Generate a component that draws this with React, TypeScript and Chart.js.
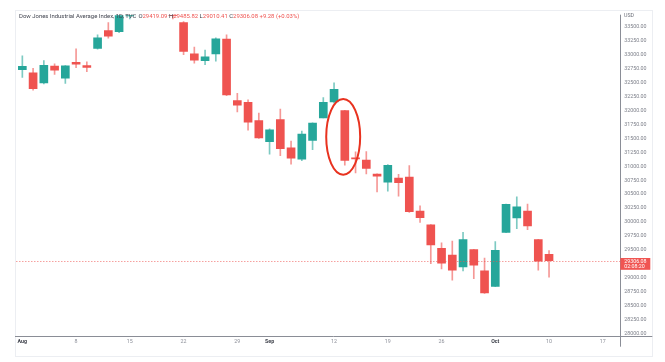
import React, { useEffect, useRef } from 'react';
import Chart from 'chart.js/auto';

// Trading days (daily candles), Aug 1 – Oct 10, 2022
const days = [
  '2022-08-01', '2022-08-02', '2022-08-03', '2022-08-04', '2022-08-05',
  '2022-08-08', '2022-08-09', '2022-08-10', '2022-08-11', '2022-08-12',
  '2022-08-15', '2022-08-16', '2022-08-17', '2022-08-18', '2022-08-19',
  '2022-08-22', '2022-08-23', '2022-08-24', '2022-08-25', '2022-08-26',
  '2022-08-29', '2022-08-30', '2022-08-31', '2022-09-01', '2022-09-02',
  '2022-09-06', '2022-09-07', '2022-09-08', '2022-09-09', '2022-09-12',
  '2022-09-13', '2022-09-14', '2022-09-15', '2022-09-16', '2022-09-19',
  '2022-09-20', '2022-09-21', '2022-09-22', '2022-09-23', '2022-09-26',
  '2022-09-27', '2022-09-28', '2022-09-29', '2022-09-30', '2022-10-03',
  '2022-10-04', '2022-10-05', '2022-10-06', '2022-10-07', '2022-10-10',
];

const opens = [
  32735, 32680, 32500, 32800, 32585, 32870, 32810, 33120, 33440, 33420,
  33700, 33900, 34050, 33960, 33900, 33580, 33020, 32897, 33020, 33286,
  32180, 32150, 31820, 31443, 31840, 31330, 31130, 31466, 31870, 32155,
  32000, 31140, 31110, 30862, 30716, 30790, 30805, 30195, 29950, 29525,
  29405, 29193, 29506, 29122, 28843, 29813, 30073, 30197, 29683, 29419.09,
];
const highs = [
  32984, 32760, 32900, 32840, 32810, 33110, 32875, 33360, 33580, 33770,
  33930, 34281, 34100, 34100, 33960, 33600, 33140, 33090, 33310, 33360,
  32310, 32195, 31957, 31675, 32030, 31455, 31635, 31780, 32235, 32500,
  32005, 31260, 31265, 30865, 31030, 30855, 31012, 30290, 29955, 29625,
  29655, 29815, 29510, 29350, 29650, 30320, 30450, 30320, 29690, 29485.82,
];
const lows = [
  32598, 32370, 32480, 32650, 32490, 32770, 32700, 33105, 33300, 33400,
  33650, 33880, 33780, 33900, 33650, 33005, 32855, 32825, 32890, 32270,
  31975, 31650, 31500, 31220, 31190, 31040, 31100, 31300, 31868, 32135,
  31020, 30880, 30865, 30540, 30555, 30465, 30170, 29990, 29250, 29155,
  28955, 29120, 28980, 28715, 28840, 29810, 29880, 29860, 29135, 29010.41,
];
const closes = [
  32798, 32397, 32812, 32727, 32803, 32833, 32775, 33309, 33336, 33761,
  33913, 34152, 33980, 33999, 33706, 33063, 32909, 32969, 33291, 32283,
  32098, 31791, 31510, 31656, 31318, 31145, 31581, 31775, 32151, 32381,
  31105, 31135, 30961, 30822, 31019, 30706, 30184, 30076, 29590, 29260,
  29135, 29684, 29226, 28726, 29490, 30316, 30274, 29927, 29297, 29306.08,
];

// x-axis tick positions (trading-day index) and their labels
const xTickIdx = [0, 5, 10, 15, 20, 23, 29, 34, 39, 44, 49, 54];
const xTickLabels = ['Aug', '8', '15', '22', '29', 'Sep', '12', '19', '26', 'Oct', '10', '17'];
const monthLabels = ['Aug', 'Sep', 'Oct'];

// axis ranges
const xMin = -0.59;
const xMax = 55.63;
const yMin = 27957;
const yMax = 33715;
const yStep = 250;

// header / price label texts
const titleText = 'Dow Jones Industrial Average Index, 1D, TVC';
const changeText = '+9.28 (+0.03%)';
const currencyText = 'USD';
const countdownText = '02:08:20';

// highlighted candle (Sep 13) ellipse, in data units
const highlightX = 29.85;
const highlightY = 31530;
const highlightDX = 1.58;
const highlightDY = 680;

const UP = '#26a69a';
const DOWN = '#ef5350';
const UP_WICK = 'rgba(38,166,154,0.6)';
const DOWN_WICK = 'rgba(239,83,80,0.6)';
const FONT = 'Roboto';

const overlayPlugin = {
  id: 'overlay',
  afterDatasetsDraw(chart: any) {
    const { ctx, chartArea: a, scales } = chart;
    const x = scales.x;
    const y = scales.y;
    const lastPrice = closes[closes.length - 1];
    const py = Math.round(y.getPixelForValue(lastPrice)) + 0.5;
    ctx.save();
    // dotted price line
    ctx.strokeStyle = 'rgba(239,83,80,0.55)';
    ctx.lineWidth = 1;
    ctx.setLineDash([1.5, 1.5]);
    ctx.beginPath();
    ctx.moveTo(a.left, py);
    ctx.lineTo(a.right, py);
    ctx.stroke();
    ctx.setLineDash([]);
    // ellipse annotation
    const cx = x.getPixelForValue(highlightX);
    const cy = y.getPixelForValue(highlightY);
    const rx = Math.abs(x.getPixelForValue(highlightX + highlightDX) - cx);
    const ry = Math.abs(y.getPixelForValue(highlightY + highlightDY) - cy);
    ctx.strokeStyle = '#e8321f';
    ctx.lineWidth = 2;
    ctx.beginPath();
    ctx.ellipse(cx, cy, rx, ry, 0, 0, Math.PI * 2);
    ctx.stroke();
    ctx.restore();
  },
  afterDraw(chart: any) {
    const { ctx, chartArea: a, scales } = chart;
    const y = scales.y;
    ctx.save();
    // axis lines
    ctx.strokeStyle = '#8a8d96';
    ctx.lineWidth = 1;
    const rx = Math.round(a.right) + 0.5;
    const by = Math.round(a.bottom) + 0.5;
    ctx.beginPath();
    ctx.moveTo(rx, a.top - 0.5);
    ctx.lineTo(rx, a.bottom + 11);
    ctx.moveTo(a.left - 1, by);
    ctx.lineTo(a.right + 32, by);
    ctx.stroke();
    // last price label
    const lastPrice = closes[closes.length - 1];
    const py = y.getPixelForValue(lastPrice);
    ctx.fillStyle = '#f05552';
    ctx.fillRect(a.right, py - 2.6, 30, 11.8);
    ctx.fillStyle = '#ffffff';
    ctx.font = `5.3px ${FONT}`;
    ctx.textAlign = 'left';
    ctx.textBaseline = 'middle';
    ctx.fillText(lastPrice.toFixed(2), a.right + 4, py + 0.8);
    ctx.fillText(countdownText, a.right + 4, py + 6.2);
    ctx.restore();
  },
};

export default function App() {
  const ref = useRef<HTMLCanvasElement>(null);

  useEffect(() => {
    const idx = closes.map((_, i) => i);
    const isUp = (i: number) => closes[i] >= opens[i];
    const chart = new Chart(ref.current as HTMLCanvasElement, {
      type: 'bar',
      data: {
        datasets: [
          {
            label: 'wick',
            data: idx.map((i) => ({ x: i, y: [lows[i], highs[i]] })) as any,
            backgroundColor: idx.map((i) => (isUp(i) ? UP_WICK : DOWN_WICK)),
            barThickness: 1,
            grouped: false,
            order: 2,
          } as any,
          {
            label: 'body',
            data: idx.map((i) => ({ x: i, y: [opens[i], closes[i]] })) as any,
            backgroundColor: idx.map((i) => (isUp(i) ? UP : DOWN)),
            barThickness: 8,
            minBarLength: 1,
            grouped: false,
            order: 1,
          } as any,
        ],
      },
      options: {
        animation: false,
        responsive: false,
        layout: { padding: { left: 8, top: 2.5, right: 12, bottom: 12.3 } },
        plugins: { legend: { display: false }, tooltip: { enabled: false } },
        scales: {
          x: {
            type: 'linear',
            min: xMin,
            max: xMax,
            offset: false,
            grid: { display: false, drawTicks: false },
            border: { display: false },
            afterBuildTicks: (s: any) => {
              s.ticks = xTickIdx.map((v) => ({ value: v }));
            },
            afterFit: (s: any) => {
              s.height = 14;
            },
            ticks: {
              autoSkip: false,
              maxRotation: 0,
              padding: 3,
              callback: (v: any) => {
                const k = xTickIdx.indexOf(Number(v));
                return k >= 0 ? xTickLabels[k] : '';
              },
              font: (c: any) => {
                const k = xTickIdx.indexOf(c.tick ? c.tick.value : -1);
                const isMonth = k >= 0 && monthLabels.includes(xTickLabels[k]);
                return { family: FONT, size: 5.3, weight: isMonth ? 'bold' : 'normal' };
              },
              color: (c: any) => {
                const k = xTickIdx.indexOf(c.tick ? c.tick.value : -1);
                const isMonth = k >= 0 && monthLabels.includes(xTickLabels[k]);
                return isMonth ? '#3d404a' : '#8c8f99';
              },
            },
          } as any,
          y: {
            type: 'linear',
            position: 'right',
            min: yMin,
            max: yMax,
            beginAtZero: false,
            grid: { display: false, drawTicks: false },
            border: { display: false },
            afterBuildTicks: (s: any) => {
              const t = [];
              for (let v = Math.ceil(yMin / yStep) * yStep; v <= yMax; v += yStep) t.push({ value: v });
              s.ticks = t;
            },
            afterFit: (s: any) => {
              s.width = 32.7;
            },
            ticks: {
              autoSkip: false,
              padding: 4,
              color: '#7c7f89',
              font: { family: FONT, size: 5.3 },
              callback: (v: any) => Number(v).toFixed(2),
            },
          } as any,
        },
      },
      plugins: [overlayPlugin],
    });
    return () => chart.destroy();
  }, []);

  const n = closes.length - 1;
  const red = { color: '#ef5350' };
  const dark = { color: '#3b3e48' };

  return (
    <div style={{ position: 'relative', width: 657, height: 354 }}>
      <div
        style={{
          position: 'absolute',
          left: 7,
          top: 2,
          width: 638,
          height: 347,
          boxSizing: 'border-box',
          border: '1px solid #eceef2',
        }}
      />
      <canvas
        ref={ref}
        width={657}
        height={354}
        style={{ position: 'absolute', left: 0, top: 0, width: 657, height: 354 }}
      />
      <div
        style={{
          position: 'absolute',
          left: 11,
          top: 5,
          fontFamily: FONT,
          fontSize: 5.95,
          lineHeight: '6px',
          whiteSpace: 'nowrap',
          color: '#434651',
        }}
      >
        <span>{titleText}</span>
        <span style={{ marginLeft: 2 }}>
          <span style={dark}>O</span>
          <span style={red}>{opens[n].toFixed(2)}</span>{' '}
          <span style={dark}>H</span>
          <span style={red}>{highs[n].toFixed(2)}</span>{' '}
          <span style={dark}>L</span>
          <span style={red}>{lows[n].toFixed(2)}</span>{' '}
          <span style={dark}>C</span>
          <span style={red}>{closes[n].toFixed(2)}</span>{' '}
          <span style={red}>{changeText}</span>
        </span>
      </div>
      <div
        style={{
          position: 'absolute',
          left: 616,
          top: 4,
          fontFamily: FONT,
          fontSize: 5.3,
          lineHeight: '6px',
          color: '#6f727c',
        }}
      >
        {currencyText}
      </div>
    </div>
  );
}
